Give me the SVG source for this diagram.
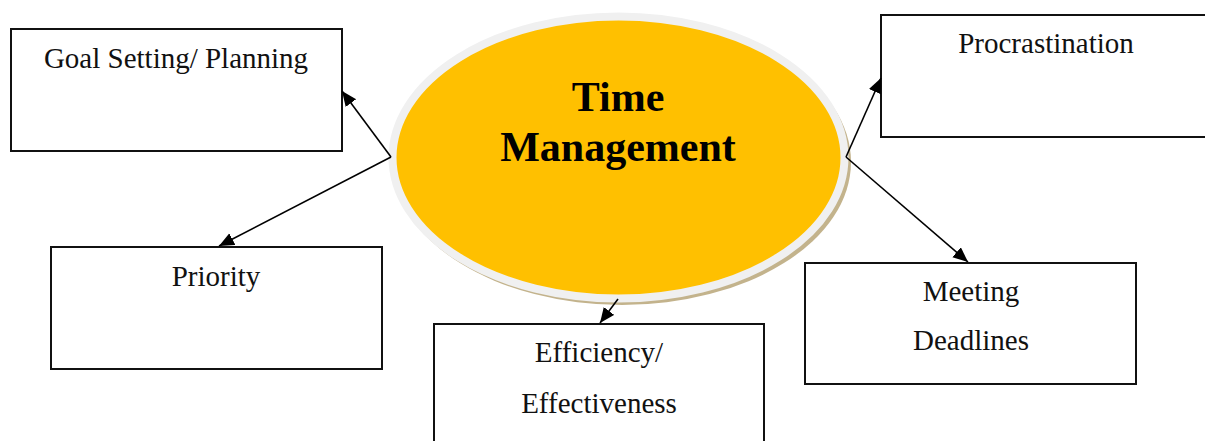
<svg xmlns="http://www.w3.org/2000/svg" width="1205" height="441" viewBox="0 0 1205 441">
<style>
.box{fill:#fff;stroke:#111;stroke-width:2}
.lbl{font-family:"Liberation Serif","Times New Roman",serif;font-size:29px;fill:#111;text-anchor:middle}
.title{font-family:"Liberation Serif","Times New Roman",serif;font-size:42px;font-weight:bold;fill:#000;text-anchor:middle}
.conn{stroke:#000;stroke-width:1.6;fill:none}
</style>
<defs>
<marker id="ah" markerUnits="userSpaceOnUse" markerWidth="16" markerHeight="14" refX="15" refY="6.5" orient="auto">
<path d="M0,0 L15,6.5 L0,13 Z" fill="#000"/>
</marker>
</defs>
<rect width="1205" height="441" fill="#fff"/>
<g id="center">
<ellipse cx="622" cy="162" rx="229" ry="143" fill="#c3b38c"/>
<ellipse cx="618.5" cy="157.5" rx="226" ry="141" fill="#ffc000" stroke="#f0f0f0" stroke-width="8"/>
<text class="title" x="618" y="111">Time</text>
<text class="title" x="618" y="161">Management</text>
</g>
<g id="goal">
<rect class="box" x="11" y="29" width="331" height="122"/>
<text class="lbl" x="176" y="68">Goal Setting/ Planning</text>
</g>
<g id="priority">
<rect class="box" x="51" y="247" width="331" height="122"/>
<text class="lbl" x="216" y="286">Priority</text>
</g>
<g id="procrastination">
<rect class="box" x="881" y="15" width="331" height="122"/>
<text class="lbl" x="1046" y="53">Procrastination</text>
</g>
<g id="deadlines">
<rect class="box" x="805" y="263" width="331" height="121"/>
<text class="lbl" x="971" y="301">Meeting</text>
<text class="lbl" x="971" y="350">Deadlines</text>
</g>
<g id="efficiency">
<rect class="box" x="434" y="324" width="330" height="130"/>
<text class="lbl" x="599" y="362">Efficiency/</text>
<text class="lbl" x="599" y="413">Effectiveness</text>
</g>
<g id="connectors">
<line class="conn" x1="391" y1="157" x2="342" y2="91" marker-end="url(#ah)"/>
<line class="conn" x1="391" y1="157" x2="219" y2="246" marker-end="url(#ah)"/>
<line class="conn" x1="846" y1="157" x2="881" y2="78" marker-end="url(#ah)"/>
<line class="conn" x1="846" y1="157" x2="968" y2="262" marker-end="url(#ah)"/>
<line class="conn" x1="618" y1="299" x2="600" y2="323" marker-end="url(#ah)"/>
</g>
</svg>
